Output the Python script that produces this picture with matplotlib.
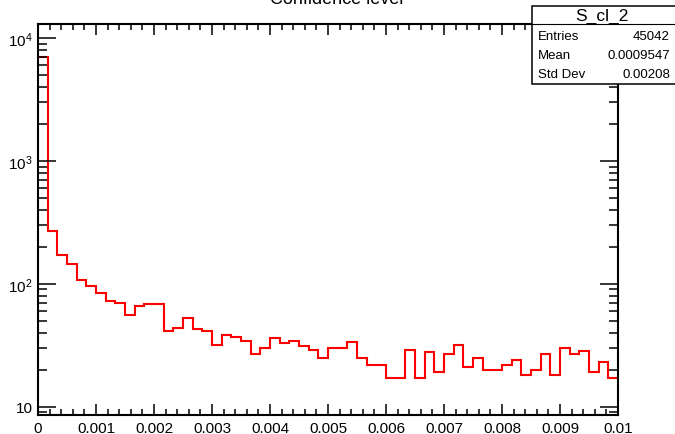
import numpy as np
import matplotlib
matplotlib.use("Agg")
import matplotlib.pyplot as plt
from matplotlib.ticker import FixedLocator, FuncFormatter, LogLocator, MultipleLocator, NullFormatter
from matplotlib.patches import Rectangle
from matplotlib.lines import Line2D

plt.rcParams['font.family'] = ['Liberation Sans', 'DejaVu Sans']
plt.rcParams['mathtext.fontset'] = 'custom'
plt.rcParams['mathtext.rm'] = 'Liberation Sans'
plt.rcParams['mathtext.it'] = 'Liberation Sans:italic'
plt.rcParams['mathtext.bf'] = 'Liberation Sans:bold'

# ---- data ----
title = "Confidence level"
hist_name = "S_cl_2"
stat_labels = ["Entries", "Mean", "Std Dev"]
stat_values = ["45042", "0.0009547", "0.00208"]
x_min, x_max, n_bins = 0.0, 0.01, 60
counts = [7000, 268, 172, 146, 108, 96, 84, 73, 70, 56,
          66, 68, 68, 41, 44, 53, 43, 41.5, 32, 38,
          37, 34.5, 27, 30, 36, 33, 34.5, 31, 29, 25,
          30, 30, 33.5, 25, 22, 22, 17, 17, 29, 17,
          28, 19, 27, 32, 21, 25, 20, 20, 22, 24,
          18, 20, 27, 18, 30, 27, 28.5, 19, 23, 17]
x_tick_values = [0, 0.001, 0.002, 0.003, 0.004, 0.005, 0.006, 0.007, 0.008, 0.009, 0.01]
x_tick_labels = ["0", "0.001", "0.002", "0.003", "0.004", "0.005", "0.006", "0.007", "0.008", "0.009", "0.01"]
y_lim = (8.56, 13000)

W, H = 675, 435
fig = plt.figure(figsize=(W / 100, H / 100), dpi=100)
ax = fig.add_axes([38 / W, 1 - 416 / H, 580 / W, 391 / H])

edges = np.linspace(x_min, x_max, n_bins + 1)
ax.stairs(counts, edges, baseline=None, color='#ff0000', linewidth=1.5)

ax.set_yscale('log')
ax.set_xlim(x_min, x_max)
ax.set_ylim(*y_lim)

ax.xaxis.set_major_locator(FixedLocator(x_tick_values))
ax.set_xticklabels(x_tick_labels)
ax.xaxis.set_minor_locator(MultipleLocator(0.0002))

ax.yaxis.set_major_locator(LogLocator(base=10, numticks=10))
ax.yaxis.set_minor_locator(LogLocator(base=10, subs=np.arange(2, 10), numticks=20))
ax.yaxis.set_minor_formatter(NullFormatter())

def yfmt(v, pos):
    e = int(round(np.log10(v)))
    if e == 1:
        return "10"
    return r"$\mathregular{10^{%d}}$" % e
ax.yaxis.set_major_formatter(FuncFormatter(yfmt))

for s in ax.spines.values():
    s.set_linewidth(1.5)

ax.tick_params(which='both', direction='in', top=True, right=True, width=1.1, labelsize=11)
ax.tick_params(axis='x', which='major', length=8, pad=4)
ax.tick_params(axis='x', which='minor', length=4)
ax.tick_params(axis='y', which='major', length=13, pad=4)
ax.tick_params(axis='y', which='minor', length=6.5)

# title (partially cut off at top of canvas)
fig.text(337 / W, 1 - 3.5 / H, title, ha='center', va='baseline', fontsize=13)

# stats box
bx0, by0, bx1, by1 = 532, 6.7, 676, 85
fig.patches.append(Rectangle((bx0 / W, 1 - by1 / H), (bx1 - bx0) / W, (by1 - by0) / H,
                             transform=fig.transFigure, facecolor='white',
                             edgecolor='black', linewidth=1.1, zorder=5))
fig.lines.append(Line2D([bx0 / W, bx1 / W], [1 - 25 / H, 1 - 25 / H],
                        transform=fig.transFigure, color='black', linewidth=0.8, zorder=6))
fig.text((bx0 + 672) / 2 / W, 1 - 16 / H, hist_name, ha='center', va='center', fontsize=12.5, zorder=7)
row_y = [37, 56, 75]
for lab, val, yy in zip(stat_labels, stat_values, row_y):
    fig.text(538 / W, 1 - yy / H, lab, ha='left', va='center', fontsize=9.5, zorder=7)
    fig.text(670 / W, 1 - yy / H, val, ha='right', va='center', fontsize=9.5, zorder=7)

fig.savefig("out.png", dpi=100)
